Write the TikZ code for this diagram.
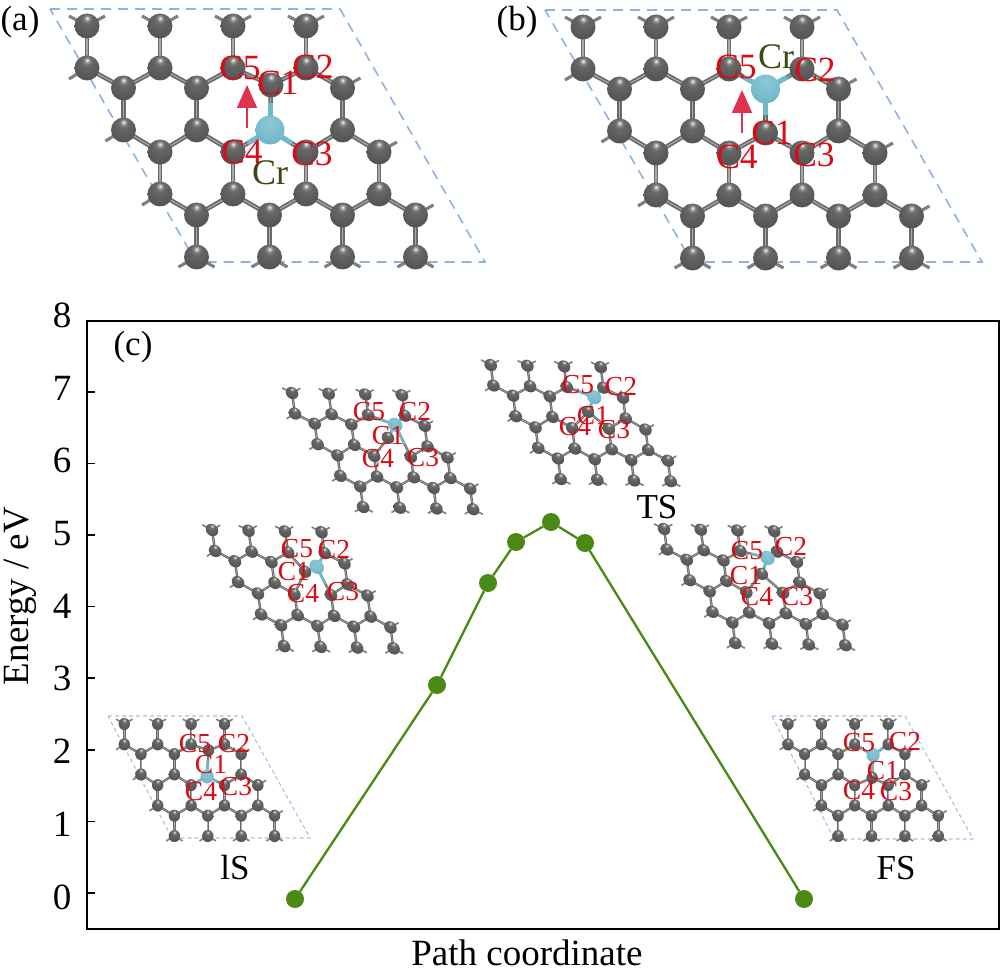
\documentclass[tikz,border=0pt]{standalone}
\usepackage{fontspec}
\setmainfont{Liberation Serif}
\usetikzlibrary{calc,arrows.meta}
\definecolor{bondgrey}{HTML}{6A6A6A}
\definecolor{bondlight}{HTML}{A8A8A8}
\definecolor{crteal}{HTML}{6FB9CB}
\definecolor{cellblue}{HTML}{8FB2E0}
\definecolor{labred}{HTML}{DC0A14}
\definecolor{crolive}{HTML}{3A4A10}
\definecolor{curvegreen}{HTML}{4A8A14}
\definecolor{arrowred}{HTML}{E0324E}
\pgfdeclareradialshading{atomgrey}{\pgfpoint{0bp}{16bp}}{%
 color(0bp)=(white!95!black);color(6bp)=(black!50);color(11bp)=(black!60);color(30bp)=(black!66);color(55bp)=(black!72);color(100bp)=(black!72)}
\pgfdeclareradialshading{atomteal}{\pgfpoint{0bp}{14bp}}{%
 color(0bp)=(white!20!crteal);color(25bp)=(crteal!95!white);color(55bp)=(crteal!85!black);color(100bp)=(crteal!85!black)}
\tikzset{
 x=1pt,y=-1pt,
 bond/.style={draw=bondgrey,line width=\bw pt,postaction={draw=bondlight,line width=.25*\bw pt}},
 stub/.style={draw=bondgrey!85!white,line width=.7*\bw pt},
 tealbond/.style={draw=crteal,line width=1.1*\bw pt},
 ccell/.style={draw=cellblue,line width=1.6pt,dash pattern=on 10pt off 7pt},
 icell/.style={draw=cellblue!80!white,line width=1.1pt,dash pattern=on 4pt off 3pt},
 lab/.style={text=labred,inner sep=0pt,font=\fontsize{35.5}{35.5}\selectfont},
 ilab/.style={text=labred,inner sep=0pt,font=\fontsize{27.5}{27.5}\selectfont},
 crlab/.style={text=crolive,inner sep=0pt,font=\fontsize{36}{36}\selectfont},
 txt/.style={text=black,inner sep=0pt,font=\fontsize{35}{35}\selectfont},
 num/.style={text=black,inner sep=0pt,font=\fontsize{37}{37}\selectfont},
 tick/.style={draw=black,line width=1.6pt},
 curve/.style={draw=curvegreen,line width=2.3pt},
 datum/.style={circle,fill=curvegreen,minimum size=18pt,inner sep=0pt},
 migr/.style={draw=arrowred,line width=2pt,-{Triangle[length=23pt,width=20pt]}},
}
% #1 cm entries, #2 bond width, #3 C1 site, #4 Cr site, #5 grey bonds of C1, #6 teal bonds of Cr
\newcommand{\sheet}[6]{%
\begin{scope}[cm={#1}]
 \def\bw{#2}
 \foreach \r/\Y/\X in {0/0/0,1/42/0,2/62/36.5,3/104/36.5,4/126/73,5/168/73,6/189/109.5,7/231/109.5}
  \foreach \c in {0,1,2,3} \coordinate (s\r\c) at ({\X+73*\c},\Y);
 \coordinate (cone) at (#3);
 \coordinate (crat) at (#4);
 \foreach \p/\q in {00/10,01/11,02/12,03/13,20/30,21/31,23/33,40/50,41/51,42/52,43/53,60/70,61/71,62/72,63/73,
   10/20,11/20,11/21,12/21,13/23,30/40,31/40,31/41,33/42,33/43,50/60,51/60,51/61,52/61,52/62,53/62,53/63}
  \draw[bond] (s\p) -- (s\q);
 \foreach \q in {#5} \draw[bond] (cone) -- (\q);
 \foreach \q in {#6} {\draw[bond] (crat) -- (\q); \draw[tealbond] (crat) -- ($(crat)!.6!(\q)$);}
 \foreach \q in {00,01,02,03} {\draw[stub] (s\q) -- ++(-18,-10); \draw[stub] (s\q) -- ++(18,-10);}
 \foreach \q in {70,71,72,73} {\draw[stub] (s\q) -- ++(-18,10); \draw[stub] (s\q) -- ++(18,10);}
 \foreach \q in {10,30,50} \draw[stub] (s\q) -- ++(-18,11);
 \foreach \q in {23,43,63} \draw[stub] (s\q) -- ++(18,-10);
 \foreach \q in {s00,s01,s02,s03,s10,s11,s12,s13,s20,s21,s23,s30,s31,s33,s40,s41,s42,s43,s50,s51,s52,s53,s60,s61,s62,s63,s70,s71,s72,s73,cone}
  \shade[shading=atomgrey] (\q) circle [radius=12.5pt];
 \shade[shading=atomteal] (crat) circle [radius=14.5pt];
\end{scope}}
\begin{document}
\begin{tikzpicture}
\useasboundingbox (0,0) rectangle (1000,968);
% panel (a)
\draw[ccell] (50,9) -- (340,9) -- (485,262) -- (196,262) -- cycle;
\sheet{1,0,0,1,(87,26)}{4.5}{184,59}{183,104}{s12,s13}{cone,s41,s42}
\coordinate (arrAs) at (247,128); \coordinate (arrAe) at (247,85);
\draw[migr] (arrAs) -- (arrAe);
\node[lab] (aC5) at (240,68) {C5};
\node[lab] (aC1) at (278,83) {C1};
\node[lab] (aC2) at (313,67) {C2};
\node[lab] (aC4) at (242,152) {C4};
\node[lab] (aC3) at (312,154) {C3};
\node[crlab] (aCr) at (270,173) {Cr};
\node[txt] (aTag) at (20,22) {(a)};
% panel (b)
\draw[ccell] (545,10) -- (837,10) -- (982,262) -- (692,262) -- cycle;
\sheet{1,0,0,1,(583,27)}{4.5}{182.5,106}{182.5,62}{s41,s42}{cone,s12,s13}
\coordinate (arrBs) at (742,133); \coordinate (arrBe) at (742,90);
\draw[migr] (arrBs) -- (arrBe);
\node[lab] (bC5) at (736,67) {C5};
\node[crlab] (bCr) at (776,57) {Cr};
\node[lab] (bC2) at (815,70) {C2};
\node[lab] (bC1) at (772,133) {C1};
\node[lab] (bC4) at (737,157) {C4};
\node[lab] (bC3) at (814,155) {C3};
\node[txt] (bTag) at (517,22) {(b)};
% panel (c) frame
\node[draw=black,line width=2.2pt,inner sep=0pt,minimum width=912pt,minimum height=608pt,anchor=north west] (frame) at (86,320) {};
\foreach \v in {0,...,7} {
 \coordinate (tk\v) at (86,{893-71.6*\v});
 \draw[tick] (tk\v) -- ++(9,0);
}
\foreach \v in {0,...,8}
 \node[num] (yl\v) at (62,{897-72.7*\v}) {\v};
\node[num,rotate=90] (ylab) at (20,596) {Energy / eV};
\node[num,anchor=base] (xlab) at (527,965) {Path coordinate};
\node[txt] (cTag) at (133,347) {(c)};
% curve
\node[datum] (d1) at (295,899) {};
\node[datum] (d2) at (437,685) {};
\node[datum] (d3) at (488,583) {};
\node[datum] (d4) at (516,542) {};
\node[datum] (d5) at (551,522) {};
\node[datum] (d6) at (585,543) {};
\node[datum] (d7) at (804,899) {};
\draw[curve] (d1) -- (d2) -- (d3) -- (d4) -- (d5) -- (d6) -- (d7);
% insets
\draw[icell] (108,716) -- (242,716) -- (310,838) -- (172,838) -- cycle;
\sheet{.4575,0,0,.485,(124.3,724)}{2.4}{184,54}{181,108}{s12,s13}{cone,s41,s42}
\node[ilab] (iC5) at (195,744) {C5};
\node[ilab] (iC2) at (234,744) {C2};
\node[ilab] (iC1) at (211,765) {C1};
\node[ilab] (iC4) at (201,792) {C4};
\node[ilab] (iC3) at (236,787) {C3};
\node[txt] (iTag) at (235,868) {lS};

\sheet{.5,-.01,-.075,.498,(212,530)}{2.4}{174,80}{199,70}{s12,s41}{cone,s42,s13}
\node[ilab] (pC5) at (297,549) {C5};
\node[ilab] (pC2) at (334,550) {C2};
\node[ilab] (pC1) at (294,572) {C1};
\node[ilab] (pC4) at (303,594) {C4};
\node[ilab] (pC3) at (343,592) {C3};

\sheet{.502,-.01,-.07,.489,(292,393)}{2.4}{179,88}{197,61}{s41}{cone,s12,s13,s42}
\node[ilab] (qC5) at (369,412) {C5};
\node[ilab] (qC2) at (415,412) {C2};
\node[ilab] (qC1) at (388,436) {C1};
\node[ilab] (qC4) at (378,459) {C4};
\node[ilab] (qC3) at (423,458) {C3};

\sheet{.502,-.01,-.065,.489,(490.7,365)}{2.4}{182,92}{198,61.5}{s41,s42}{cone,s12,s13}
\node[ilab] (tC5) at (578,385) {C5};
\node[ilab] (tC2) at (621,387) {C2};
\node[ilab] (tC1) at (593,416) {C1};
\node[ilab] (tC4) at (575,427) {C4};
\node[ilab] (tC3) at (614,430) {C3};
\node[txt] (tTag) at (657,507) {TS};

\sheet{.503,-.01,-.07,.489,(664,529)}{2.4}{182,88}{198,55}{s41,s42}{cone,s12,s13}
\node[ilab] (uC5) at (747,551) {C5};
\node[ilab] (uC2) at (791,547) {C2};
\node[ilab] (uC1) at (746,576) {C1};
\node[ilab] (uC4) at (757,597) {C4};
\node[ilab] (uC3) at (797,597) {C3};

\draw[icell] (772,716) -- (905,716) -- (973,839) -- (834,839) -- cycle;
\sheet{.4575,0,0,.485,(788,724)}{2.4}{184,111}{186,64}{s41,s42}{cone,s12,s13}
\node[ilab] (fC5) at (859,743) {C5};
\node[ilab] (fC2) at (905,742) {C2};
\node[ilab] (fC1) at (883,771) {C1};
\node[ilab] (fC4) at (859,791) {C4};
\node[ilab] (fC3) at (896,792) {C3};
\node[txt] (fTag) at (896,868) {FS};
\end{tikzpicture}
\end{document}
